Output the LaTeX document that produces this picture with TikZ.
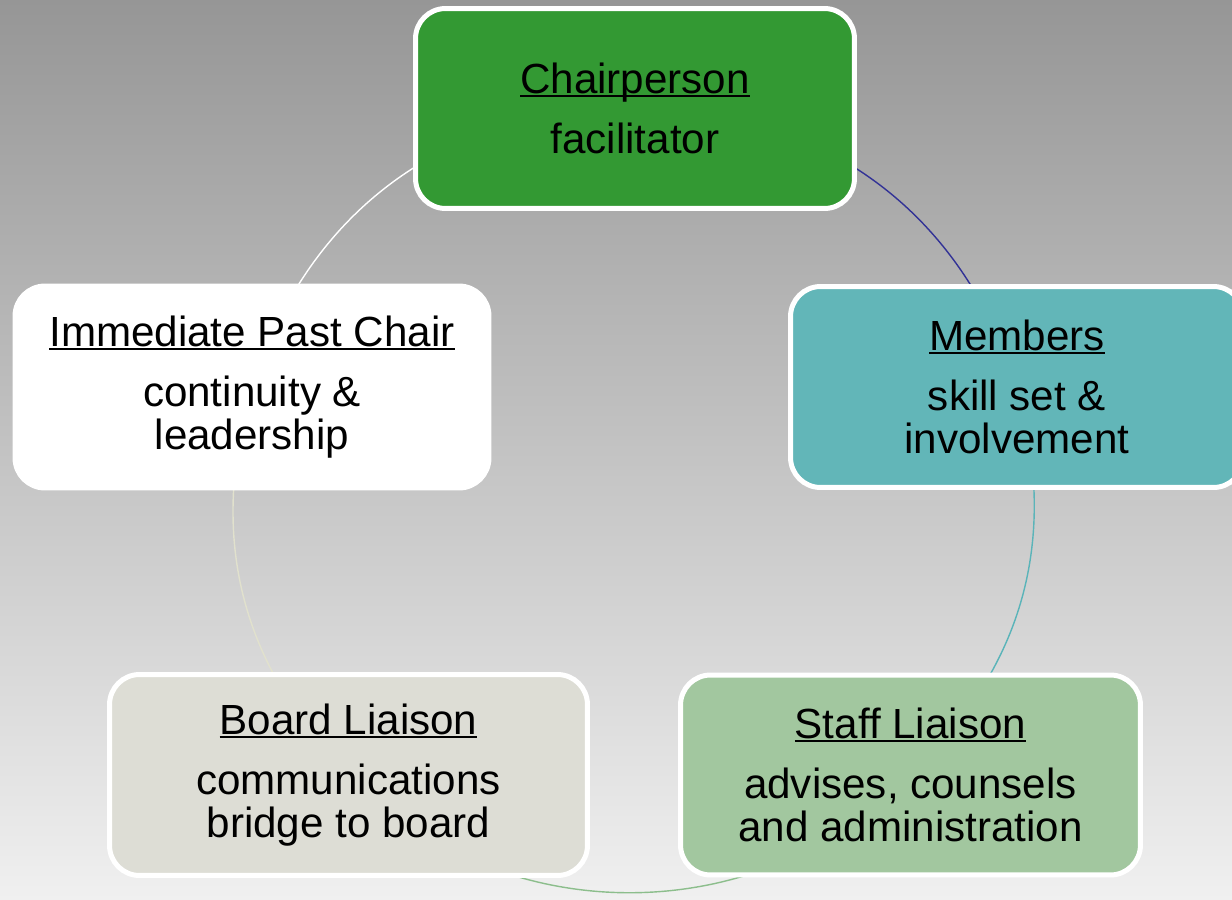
\documentclass[tikz,border=0pt]{standalone}
\usepackage{fontspec}
\setmainfont{Liberation Sans}
\usetikzlibrary{backgrounds}
\definecolor{chairfill}{RGB}{51,153,51}
\definecolor{memberfill}{RGB}{98,182,184}
\definecolor{stafffill}{RGB}{162,199,159}
\definecolor{boardfill}{RGB}{221,221,213}
\definecolor{bgtop}{RGB}{150,150,150}
\definecolor{bgbottom}{RGB}{240,240,240}
\definecolor{arcblue}{RGB}{50,50,150}
\definecolor{arcteal}{RGB}{90,180,185}
\definecolor{arcgreen}{RGB}{140,190,140}
\definecolor{arcbeige}{RGB}{225,225,205}
\newcommand{\uln}[1]{\setbox0\hbox{#1}\rlap{\rule[-2pt]{\wd0}{1.2pt}}\box0}
\begin{document}
\begin{tikzpicture}[x=0.02cm,y=-0.02cm]
	\def \rowtop{108.5}
	\def \rowmid{387}
	\def \rowlow{775}
	\tikzstyle{role}=[rectangle,rounded corners=0.6cm,draw=white,line width=0.1cm,align=center,text=black,inner sep=0pt,font=\fontsize{24}{24.4}\selectfont]
	\tikzstyle{cyc}=[line width=0.8pt]
	\path[use as bounding box] (0,0) rectangle (1232,900);
	% backdrop
	\begin{scope}[on background layer]
		\shade[top color=bgtop,bottom color=bgbottom] (0,0) rectangle (1232,900);
	\end{scope}
	
	% roles
	\node[role,fill=chairfill,minimum width=8.78cm,minimum height=4.0cm] 	(chair)	at (635,\rowtop)	{\uln{Chairperson}\\[0.34cm]facilitator};
	\node[role,fill=memberfill,minimum width=9.06cm,minimum height=4.02cm] 	(members)	at (1017,\rowmid)	{\uln{Members}\\[0.34cm]skill set \&\\involvement};
	\node[role,fill=stafffill,minimum width=9.2cm,minimum height=4.0cm] 	(staff)	at (910.5,\rowlow)	{\uln{Staff Liaison}\\[0.34cm]advises, counsels\\and administration};
	\node[role,fill=boardfill,minimum width=9.56cm,minimum height=4.02cm] 	(board)	at (348.5,\rowlow)	{\uln{Board Liaison}\\[0.34cm]communications\\bridge to board};
	\node[role,fill=white,minimum width=9.48cm,minimum height=4.04cm] 	(past)	at (252,\rowmid)	{\uln{Immediate Past Chair}\\[0.34cm]continuity \&\\leadership};
	
	% cycle
	\begin{scope}[on background layer]
	\path[cyc]
		(chair.center)	edge[bend left=36.5,draw=arcblue]	(members.center)
		(members.center)	edge[bend left=30.9,draw=arcteal]	(staff.center)
		(staff.center)	edge[bend left=45.75,draw=arcgreen]	(board.center)
		(board.center)	edge[bend left=30.2,draw=arcbeige]	(past.center)
		(past.center)	edge[bend left=36.6,draw=white]	(chair.center);
	\end{scope}
\end{tikzpicture}
\end{document}
